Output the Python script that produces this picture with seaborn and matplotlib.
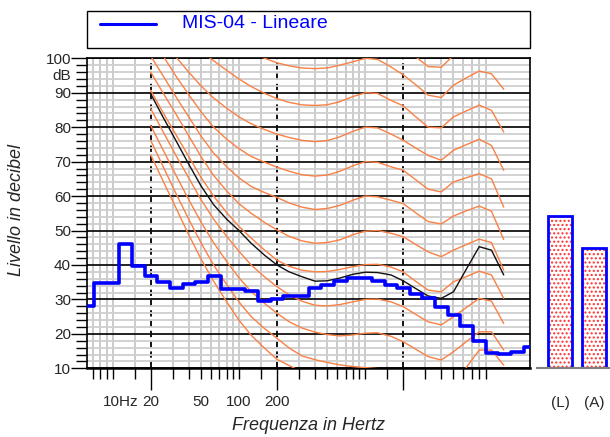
import matplotlib
matplotlib.use("Agg")
import matplotlib.pyplot as plt
import seaborn as sns
from matplotlib.ticker import FixedLocator, NullFormatter, FixedFormatter
from matplotlib.patches import Rectangle
from matplotlib.lines import Line2D

# ---------------- data ----------------
band_freqs = [6.3, 8, 10, 12.5, 16, 20, 25, 31.5, 40, 50, 63, 80, 100, 125, 160, 200,
              250, 315, 400, 500, 630, 800, 1000, 1250, 1600, 2000, 2500, 3150, 4000,
              5000, 6300, 8000, 10000, 12500, 16000, 20000]
band_levels = [28.0, 34.7, 34.7, 46.2, 39.7, 36.9, 35.1, 33.4, 34.4, 35.1, 36.9, 33.0,
               33.0, 32.3, 29.6, 30.0, 31.1, 31.1, 33.3, 34.3, 35.4, 36.1, 36.1, 35.4,
               34.2, 33.2, 31.7, 30.3, 27.7, 25.6, 22.3, 17.8, 14.5, 14.1, 14.8, 16.3]
series_name = "MIS-04 - Lineare"

contour_freqs = [20, 25, 31.5, 40, 50, 63, 80, 100, 125, 160, 200, 250, 315, 400, 500,
                 630, 800, 1000, 1250, 1600, 2000, 2500, 3150, 4000, 5000, 6300, 8000,
                 10000, 12500]
phon_0 = [72.0, 64.5, 56.8, 48.8, 41.8, 35.3, 29.3, 24.0, 19.6, 15.8, 12.6, 10.8, 9.0,
          7.5, 6.5, 5.8, 5.3, 5.0, 4.8, 3.8, 2.0, 0.0, -2.0, -3.0, -1.0, 2.0, 6.0, 6.0,
          2.0]
phon_10 = [76.2, 68.7, 61.0, 53.3, 46.5, 40.0, 34.3, 29.3, 25.0, 21.5, 18.7, 15.9, 13.6,
           12.5, 11.7, 11.0, 10.5, 10.2, 9.9, 9.0, 7.5, 5.5, 3.5, 2.5, 5.0, 10.2, 15.3,
           15.3, 10.9]
phon_20 = [80.5, 73.5, 66.3, 59.0, 52.5, 46.5, 41.0, 36.3, 32.3, 28.8, 26.0, 23.5, 21.7,
           20.5, 19.8, 19.4, 19.7, 20.2, 20.3, 19.3, 17.7, 15.6, 13.4, 12.4, 14.8, 17.7,
           20.6, 20.6, 15.3]
phon_30 = [85.4, 78.8, 72.0, 65.3, 59.0, 53.3, 48.3, 44.0, 40.0, 36.5, 33.7, 31.3, 29.5,
           28.3, 28.1, 28.5, 29.3, 30.0, 30.1, 29.3, 27.9, 25.7, 23.5, 22.6, 25.0, 27.6,
           30.3, 29.5, 23.0]
phon_40 = [90.7, 84.3, 78.0, 71.5, 65.5, 60.0, 55.2, 51.2, 47.8, 44.3, 41.4, 39.6, 38.5,
           38.0, 38.1, 38.7, 39.5, 40.1, 40.2, 39.4, 38.0, 35.3, 32.7, 32.2, 35.1, 36.6,
           38.2, 37.1, 30.3]
phon_50 = [96.0, 90.0, 84.0, 77.5, 71.5, 66.0, 61.5, 57.8, 55.0, 52.3, 50.2, 48.3, 47.0,
           46.3, 46.5, 47.3, 48.8, 49.8, 50.0, 49.2, 48.2, 46.0, 43.8, 42.4, 44.3, 45.9,
           47.5, 46.5, 38.5]
phon_60 = [100.7, 95.0, 89.0, 83.0, 77.5, 72.5, 68.5, 65.3, 62.8, 61.0, 59.6, 58.0, 56.8,
           56.1, 56.4, 57.3, 58.8, 60.0, 59.8, 58.8, 57.8, 55.2, 52.6, 51.9, 54.2, 55.7,
           57.1, 55.6, 47.4]
phon_70 = [107.0, 100.8, 95.0, 89.5, 84.5, 80.0, 76.5, 73.8, 71.5, 69.8, 68.4, 67.2, 66.2,
           65.8, 66.1, 67.2, 68.8, 70.0, 69.8, 68.5, 67.5, 64.8, 62.0, 61.2, 64.1, 65.3,
           66.5, 65.0, 56.8]
phon_80 = [112.0, 106.0, 100.5, 96.0, 92.0, 88.5, 85.5, 83.0, 81.0, 79.3, 78.0, 77.0, 76.2,
           75.8, 76.1, 77.2, 78.8, 80.0, 79.8, 78.0, 76.2, 74.0, 71.8, 70.4, 73.3, 74.9,
           76.5, 74.7, 67.5]
phon_90 = [117.0, 112.5, 108.5, 105.0, 102.0, 99.3, 96.5, 94.0, 91.8, 89.8, 88.3, 87.2,
           86.5, 86.3, 86.5, 87.4, 88.9, 90.0, 89.8, 87.8, 86.2, 83.1, 80.0, 79.8, 83.0,
           84.7, 86.4, 84.9, 78.6]
phon_100 = [122.0, 118.0, 115.0, 112.0, 109.5, 107.0, 105.0, 103.0, 101.5, 100.0, 98.7,
            97.8, 97.2, 97.0, 97.2, 98.0, 99.0, 100.0, 99.7, 97.5, 95.2, 92.4, 89.3, 88.6,
            92.2, 94.3, 96.3, 95.5, 91.0]
phon_110 = [127.0, 124.0, 121.0, 118.5, 116.0, 114.0, 112.5, 111.0, 109.5, 108.5, 107.5,
            106.8, 106.5, 106.3, 106.5, 107.2, 108.5, 109.5, 109.0, 106.5, 104.0, 100.5,
            97.6, 97.4, 100.8, 103.0, 105.5, 105.0, 101.0]
loudness_curve = [89.7, 83.0, 76.3, 69.3, 63.0, 57.5, 53.3, 50.0, 46.3, 42.8, 40.0, 38.0,
                  36.6, 35.3, 35.4, 36.2, 37.3, 37.9, 37.8, 37.1, 35.4, 33.2, 31.0, 30.3,
                  32.2, 38.7, 45.3, 44.3, 37.1]
isophons = [phon_0, phon_10, phon_20, phon_30, phon_40, phon_50, phon_60, phon_70,
            phon_80, phon_90, phon_100, phon_110]

total_labels = ["(L)", "(A)"]
total_levels = [54.3, 45.0]

y_major = [10, 20, 30, 40, 50, 60, 70, 80, 90, 100]
y_labels = ["10", "20", "30", "40", "50", "60", "70", "80", "90", "100"]
x_major = [20, 200, 2000]
x_minor = [7, 8, 9, 10, 15, 30, 40, 50, 60, 70, 80, 90, 100, 150, 300, 400, 500, 600,
           700, 800, 900, 1000, 1500, 3000, 4000, 5000, 6000, 7000, 8000, 9000]
x_label_pos = [8.4, 20, 50, 100, 200]
x_label_txt = ["10Hz", "20", "50", "100", "200"]

# ---------------- style ----------------
sns.set_theme(style="ticks")
plt.rcParams["font.family"] = ["Liberation Sans", "DejaVu Sans"]
plt.rcParams["hatch.color"] = "#ff3030"
plt.rcParams["hatch.linewidth"] = 1.0

W, H = 610, 437
fig = plt.figure(figsize=(W / 100, H / 100), dpi=100)
L, R, T, B = 87.3, 529.5, 58.3, 368.3
ax = fig.add_axes([L / W, (H - B) / H, (R - L) / W, (B - T) / H])

ax.set_xscale("log")

ORANGE = "#fa8044"
for curve in isophons:
    sns.lineplot(x=contour_freqs, y=curve, color=ORANGE, lw=1.0, ax=ax, zorder=3)
sns.lineplot(x=contour_freqs, y=loudness_curve, color="#111111", lw=1.0, ax=ax, zorder=4)
sns.lineplot(x=band_freqs, y=band_levels, color="#0000ff", lw=2.6, drawstyle="steps-mid",
             ax=ax, zorder=5)

ax.set_xlim(6.3, 20000)
ax.set_ylim(10, 100)
ax.xaxis.set_major_locator(FixedLocator(x_major))
ax.xaxis.set_minor_locator(FixedLocator(x_minor))
ax.xaxis.set_major_formatter(NullFormatter())
ax.xaxis.set_minor_formatter(NullFormatter())
ax.yaxis.set_major_locator(FixedLocator(y_major))
ax.yaxis.set_major_formatter(FixedFormatter(y_labels))
ax.yaxis.set_minor_locator(FixedLocator([v for v in range(12, 100, 2) if v % 10]))
ax.yaxis.set_minor_formatter(NullFormatter())

ax.tick_params(axis="y", which="major", length=11.2, width=1, direction="out", pad=0.5,
               labelsize=11, color="black", left=True)
ax.tick_params(axis="y", which="minor", length=7.9, width=1, direction="out", color="black",
               left=True)
ax.tick_params(axis="x", which="major", length=16, width=1, direction="out", color="black",
               bottom=True)
ax.tick_params(axis="x", which="minor", length=7.7, width=1, direction="out", color="black",
               bottom=True)

ax.grid(which="minor", axis="y", color="#cfcfcf", lw=1.3)
ax.grid(which="major", axis="y", color="#111111", lw=1.3)
ax.grid(which="minor", axis="x", color="#bdbdbd", lw=1.1)
ax.grid(which="major", axis="x", color="black", lw=1.3, ls=(0, (3.5, 2.2)))
ax.set_axisbelow(True)
for s in ["top", "left", "right"]:
    ax.spines[s].set_color("black")
    ax.spines[s].set_linewidth(1.2)
ax.spines["bottom"].set_color("black")
ax.spines["bottom"].set_linewidth(1.8)
ax.set_xlabel("")
ax.set_ylabel("")

xt = ax.get_xaxis_transform()
for xp, tx in zip(x_label_pos, x_label_txt):
    ax.text(xp, -0.108, tx, transform=xt, ha="left" if tx.endswith("Hz") else "center",
            va="center", fontsize=11)
ax.text(-0.036, 95, "dB", transform=ax.get_yaxis_transform(), ha="right", va="center",
        fontsize=11)

fig.text(17 / W, 1 - 210 / H, "Livello in decibel", rotation=90, ha="center", va="center",
         fontsize=13, style="italic")
fig.text(309 / W, 1 - 425 / H, "Frequenza in Hertz", ha="center", va="center",
         fontsize=13, style="italic")

# legend box
fig.add_artist(Rectangle((87.3 / W, 1 - 48.3 / H), (530 - 87.3) / W, (48.3 - 10.7) / H,
                         transform=fig.transFigure, fill=False, ec="black", lw=1.0))
fig.add_artist(Line2D([100 / W, 156 / W], [1 - 23.5 / H, 1 - 23.5 / H],
                      transform=fig.transFigure, color="#0000ff", lw=2.2))
fig.text(182.5 / W, 1 - 21.3 / H, series_name, color="#0000ff", fontsize=14, ha="left",
         va="center_baseline")

# totals bars
bax = fig.add_axes([537 / W, (H - B) / H, 73 / W, (B - T) / H])
sns.barplot(x=total_labels, y=total_levels, color="white", edgecolor="#ff3030", linewidth=0,
            hatch="....", saturation=1, width=0.7, ax=bax)
sns.barplot(x=total_labels, y=total_levels, fill=False, color="#0000ff", linewidth=2.0,
            saturation=1, width=0.7, ax=bax)
bax.set_ylim(10, 100)
bax.set_xlim(-0.676, 1.47)
bax.set_yticks([])
for s in ["top", "left", "right"]:
    bax.spines[s].set_visible(False)
bax.spines["bottom"].set_color("#808080")
bax.spines["bottom"].set_linewidth(1.5)
bax.tick_params(axis="x", length=0, pad=20, labelsize=11)
bax.set_xlabel("")
bax.set_ylabel("")
bax.patch.set_alpha(0)

fig.savefig("out.png", dpi=100)
